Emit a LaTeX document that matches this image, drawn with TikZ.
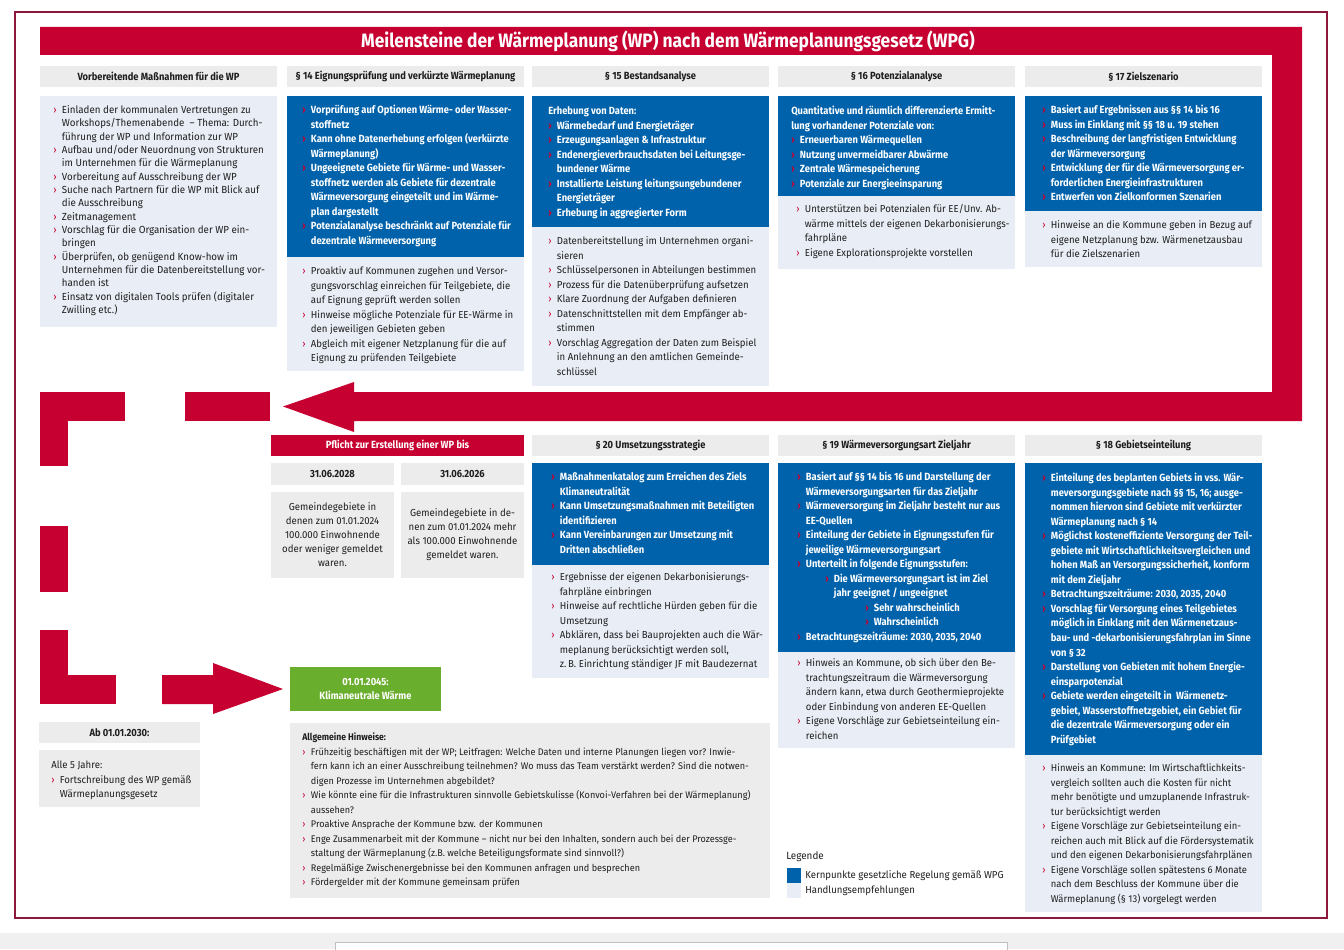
\documentclass[tikz,border=0pt]{standalone}
\usepackage{fontspec}
\setmainfont{Fira Sans}[UprightFeatures={FakeStretch=0.95}, BoldFeatures={FakeStretch=0.9}]
\usetikzlibrary{positioning}

\definecolor{wpred}{RGB}{198,0,48}
\definecolor{wpblue}{RGB}{0,98,171}
\definecolor{wplight}{RGB}{233,237,245}
\definecolor{wpgray}{RGB}{236,236,237}
\definecolor{wpdark}{RGB}{30,30,30}
\definecolor{wpframe}{RGB}{140,24,60}
\definecolor{wpgreen}{RGB}{106,174,46}

\newdimen\px \px=0.75pt
\newcommand{\bodyfnt}{\fontsize{7.6}{10.9}\selectfont}
\newcommand{\tightfnt}{\fontsize{7.7}{10}\selectfont}
\newcommand{\kernfnt}{\fontsize{7.8}{10.9}\selectfont\bfseries}
\newcommand{\headfnt}{\fontsize{7.8}{9}\selectfont\bfseries}
\newcommand{\bl}[1]{\rule{0pt}{7pt}\makebox[6.5pt][l]{\textcolor{wpred}{›}}#1}
\newcommand{\cl}[1]{\rule{0pt}{7pt}\hspace*{6.5pt}#1}
\newcommand{\sbl}[2]{\rule{0pt}{7pt}\hspace*{#1}\makebox[6.5pt][l]{\textcolor{wpred}{›}}#2}

\begin{document}
\begin{tikzpicture}[x=0.75pt, y=-0.75pt,
    box/.style={anchor=north west, inner sep=0pt, outer sep=0pt},
    kern/.style={box, fill=wpblue},
    hand/.style={box, fill=wplight},
    head/.style={box, fill=wpgray, text=wpdark, font=\headfnt, minimum height=21\px},
    redhead/.style={head, fill=wpred, text=white},
    txt/.style={anchor=north west, inner sep=0pt, align=left, text=wpdark, font=\bodyfnt},
    ktxt/.style={txt, text=white, font=\kernfnt},
    wide/.style={minimum width=237\px}
]
    \useasboundingbox (0,0) rectangle (1344,949);

    % Frame and screen strip
    \draw[wpframe, line width=1.2\px] (15,12) rectangle (1327,918);
    \fill[black!6] (0,933) rectangle (1344,949);
    \draw[black!25, fill=white] (335,942) rectangle (1007,955);

    % Red loop with title and arrow
    \fill[wpred] (40,27) -- (1302,27) -- (1302,421) -- (354,421) -- (354,432)
        -- (283,406.5) -- (354,382) -- (354,392) -- (1272,392) -- (1272,55)
        -- (40,55) -- cycle;
    \node[font=\fontsize{14.5}{16}\selectfont\bfseries, text=white] (title) at (668,41)
        {Meilensteine der Wärmeplanung (WP) nach dem Wärmeplanungsgesetz (WPG)};

    % Dashed red return path
    \fill[wpred] (40,392) rectangle (125,421);
    \fill[wpred] (40,392) rectangle (68,466);
    \fill[wpred] (185,392) rectangle (270,421);
    \fill[wpred] (40,526) rectangle (68,592);
    \fill[wpred] (40,630) rectangle (68,704);
    \fill[wpred] (40,675) rectangle (116,704);

    % Vorbereitende Massnahmen
    \node[head, wide] (h0) at (40,66) {Vorbereitende Maßnahmen für die WP};
    \node[hand, wide, minimum height=231\px] (a0) at (40,96) {};
    \node[txt, font=\tightfnt] (t0) at ([shift={(13,8)}]a0.north west) {
        \bl{Einladen der kommunalen Vertretungen zu}\\
        \cl{Workshops/Themenabende \ – Thema: Durch-}\\
        \cl{führung der WP und Information zur WP}\\
        \bl{Aufbau und/oder Neuordnung von Strukturen}\\
        \cl{im Unternehmen für die Wärmeplanung}\\
        \bl{Vorbereitung auf Ausschreibung der WP}\\
        \bl{Suche nach Partnern für die WP mit Blick auf}\\
        \cl{die Ausschreibung}\\
        \bl{Zeitmanagement}\\
        \bl{Vorschlag für die Organisation der WP ein-}\\
        \cl{bringen}\\
        \bl{Überprüfen, ob genügend Know-how im}\\
        \cl{Unternehmen für die Datenbereitstellung vor-}\\
        \cl{handen ist}\\
        \bl{Einsatz von digitalen Tools prüfen (digitaler}\\
        \cl{Zwilling etc.)}
    };

    % Paragraph 14
    \node[head, wide] (h14) at (287,66) {§ 14 Eignungsprüfung und verkürzte Wärmeplanung};
    \node[kern, wide, minimum height=161\px] (k14) at (287,96) {};
    \node[hand, wide, minimum height=114\px] (a14) at (287,257) {};
    \node[ktxt] (tk14) at ([shift={(15,8)}]k14.north west) {
        \bl{Vorprüfung auf Optionen Wärme- oder Wasser-}\\
        \cl{stoffnetz}\\
        \bl{Kann ohne Datenerhebung erfolgen (verkürzte}\\
        \cl{Wärmeplanung)}\\
        \bl{Ungeeignete Gebiete für Wärme- und Wasser-}\\
        \cl{stoffnetz werden als Gebiete für dezentrale}\\
        \cl{Wärmeversorgung eingeteilt und im Wärme-}\\
        \cl{plan dargestellt}\\
        \bl{Potenzialanalyse beschränkt auf Potenziale für}\\
        \cl{dezentrale Wärmeversorgung}
    };
    \node[txt] (ta14) at ([shift={(15,8)}]a14.north west) {
        \bl{Proaktiv auf Kommunen zugehen und Versor-}\\
        \cl{gungsvorschlag einreichen für Teilgebiete, die}\\
        \cl{auf Eignung geprüft werden sollen}\\
        \bl{Hinweise mögliche Potenziale für EE-Wärme in}\\
        \cl{den jeweiligen Gebieten geben}\\
        \bl{Abgleich mit eigener Netzplanung für die auf}\\
        \cl{Eignung zu prüfenden Teilgebiete}
    };

    % Paragraph 15
    \node[head, wide] (h15) at (532,66) {§ 15 Bestandsanalyse};
    \node[kern, wide, minimum height=131\px] (k15) at (532,96) {};
    \node[hand, wide, minimum height=159\px] (a15) at (532,227) {};
    \node[ktxt] (tk15) at ([shift={(16,9)}]k15.north west) {
        \rule{0pt}{7pt}Erhebung von Daten:\\
        \bl{Wärmebedarf und Energieträger}\\
        \bl{Erzeugungsanlagen \& Infrastruktur}\\
        \bl{Endenergieverbrauchsdaten bei Leitungsge-}\\
        \cl{bundener Wärme}\\
        \bl{Installierte Leistung leitungsungebundener}\\
        \cl{Energieträger}\\
        \bl{Erhebung in aggregierter Form}
    };
    \node[txt] (ta15) at ([shift={(16,8)}]a15.north west) {
        \bl{Datenbereitstellung im Unternehmen organi-}\\
        \cl{sieren}\\
        \bl{Schlüsselpersonen in Abteilungen bestimmen}\\
        \bl{Prozess für die Datenüberprüfung aufsetzen}\\
        \bl{Klare Zuordnung der Aufgaben definieren}\\
        \bl{Datenschnittstellen mit dem Empfänger ab-}\\
        \cl{stimmen}\\
        \bl{Vorschlag Aggregation der Daten zum Beispiel}\\
        \cl{in Anlehnung an den amtlichen Gemeinde-}\\
        \cl{schlüssel}
    };

    % Paragraph 16
    \node[head, wide] (h16) at (778,66) {§ 16 Potenzialanalyse};
    \node[kern, wide, minimum height=100\px] (k16) at (778,96) {};
    \node[hand, wide, minimum height=73\px] (a16) at (778,196) {};
    \node[ktxt] (tk16) at ([shift={(13,9)}]k16.north west) {
        \rule{0pt}{7pt}Quantitative und räumlich differenzierte Ermitt-\\
        \rule{0pt}{7pt}lung vorhandener Potenziale von:\\
        \bl{Erneuerbaren Wärmequellen}\\
        \bl{Nutzung unvermeidbarer Abwärme}\\
        \bl{Zentrale Wärmespeicherung}\\
        \bl{Potenziale zur Energieeinsparung}
    };
    \node[txt] (ta16) at ([shift={(18,7)}]a16.north west) {
        \bl{Unterstützen bei Potenzialen für EE/Unv. Ab-}\\
        \cl{wärme mittels der eigenen Dekarbonisierungs-}\\
        \cl{fahrpläne}\\
        \bl{Eigene Explorationsprojekte vorstellen}
    };

    % Paragraph 17
    \node[head, wide] (h17) at (1025,66) {§ 17 Zielszenario};
    \node[kern, wide, minimum height=115\px] (k17) at (1025,96) {};
    \node[hand, wide, minimum height=56\px] (a17) at (1025,211) {};
    \node[ktxt] (tk17) at ([shift={(17,8)}]k17.north west) {
        \bl{Basiert auf Ergebnissen aus §§ 14 bis 16}\\
        \bl{Muss im Einklang mit §§ 18 u. 19 stehen}\\
        \bl{Beschreibung der langfristigen Entwicklung}\\
        \cl{der Wärmeversorgung}\\
        \bl{Entwicklung der für die Wärmeversorgung er-}\\
        \cl{forderlichen Energieinfrastrukturen}\\
        \bl{Entwerfen von Zielkonformen Szenarien}
    };
    \node[txt] (ta17) at ([shift={(17,8)}]a17.north west) {
        \bl{Hinweise an die Kommune geben in Bezug auf}\\
        \cl{eigene Netzplanung bzw. Wärmenetzausbau}\\
        \cl{für die Zielszenarien}
    };

    % Pflicht zur Erstellung
    \node[redhead, minimum width=253\px] (pf) at (271,435) {Pflicht zur Erstellung einer WP bis};
    \node[head, minimum width=123\px, minimum height=22\px] (d28) at (271,463) {31.06.2028};
    \node[head, minimum width=123\px, minimum height=22\px] (d26) at (401,463) {31.06.2026};
    \node[hand, fill=wpgray, minimum width=123\px, minimum height=86\px, align=center,
        font=\fontsize{7.6}{10.5}\selectfont, text=wpdark] (e28) at (271,492)
        {Gemeindegebiete in\\denen zum 01.01.2024\\100.000 Einwohnende\\oder weniger gemeldet\\waren.};
    \node[hand, fill=wpgray, minimum width=123\px, minimum height=86\px, align=center,
        font=\fontsize{7.6}{10.5}\selectfont, text=wpdark] (e26) at (401,492)
        {Gemeindegebiete in de-\\nen zum 01.01.2024 mehr\\als 100.000 Einwohnende\\gemeldet waren.};

    % Paragraph 20
    \node[head, wide] (h20) at (532,435) {§ 20 Umsetzungsstrategie};
    \node[kern, wide, minimum height=102\px] (k20) at (532,463) {};
    \node[hand, wide, minimum height=113\px] (a20) at (532,565) {};
    \node[ktxt] (tk20) at ([shift={(19,8)}]k20.north west) {
        \bl{Maßnahmenkatalog zum Erreichen des Ziels}\\
        \cl{Klimaneutralität}\\
        \bl{Kann Umsetzungsmaßnahmen mit Beteiligten}\\
        \cl{identifizieren}\\
        \bl{Kann Vereinbarungen zur Umsetzung mit}\\
        \cl{Dritten abschließen}
    };
    \node[txt] (ta20) at ([shift={(19,6)}]a20.north west) {
        \bl{Ergebnisse der eigenen Dekarbonisierungs-}\\
        \cl{fahrpläne einbringen}\\
        \bl{Hinweise auf rechtliche Hürden geben für die}\\
        \cl{Umsetzung}\\
        \bl{Abklären, dass bei Bauprojekten auch die Wär-}\\
        \cl{meplanung berücksichtigt werden soll,}\\
        \cl{z.\,B. Einrichtung ständiger JF mit Baudezernat}
    };

    % Paragraph 19
    \node[head, wide] (h19) at (778,435) {§ 19 Wärmeversorgungsart Zieljahr};
    \node[kern, wide, minimum height=189\px] (k19) at (778,463) {};
    \node[hand, wide, minimum height=96\px] (a19) at (778,652) {};
    \node[ktxt] (tk19) at ([shift={(19,8)}]k19.north west) {
        \bl{Basiert auf §§ 14 bis 16 und Darstellung der}\\
        \cl{Wärmeversorgungsarten für das Zieljahr}\\
        \bl{Wärmeversorgung im Zieljahr besteht nur aus}\\
        \cl{EE-Quellen}\\
        \bl{Einteilung der Gebiete in Eignungsstufen für}\\
        \cl{jeweilige Wärmeversorgungsart}\\
        \bl{Unterteilt in folgende Eignungsstufen:}\\
        \sbl{21pt}{Die Wärmeversorgungsart ist im Ziel}\\
        \cl{\hspace*{21pt}jahr geeignet / ungeeignet}\\
        \sbl{51pt}{Sehr wahrscheinlich}\\
        \sbl{51pt}{Wahrscheinlich}\\
        \bl{Betrachtungszeiträume: 2030, 2035, 2040}
    };
    \node[txt] (ta19) at ([shift={(19,5)}]a19.north west) {
        \bl{Hinweis an Kommune, ob sich über den Be-}\\
        \cl{trachtungszeitraum die Wärmeversorgung}\\
        \cl{ändern kann, etwa durch Geothermieprojekte}\\
        \cl{oder Einbindung von anderen EE-Quellen}\\
        \bl{Eigene Vorschläge zur Gebietseinteilung ein-}\\
        \cl{reichen}
    };

    % Paragraph 18
    \node[head, wide] (h18) at (1025,435) {§ 18 Gebietseinteilung};
    \node[kern, wide, minimum height=292\px] (k18) at (1025,463) {};
    \node[hand, wide, minimum height=157\px] (a18) at (1025,755) {};
    \node[ktxt] (tk18) at ([shift={(17,9)}]k18.north west) {
        \bl{Einteilung des beplanten Gebiets in vss. Wär-}\\
        \cl{meversorgungsgebiete nach §§ 15, 16; ausge-}\\
        \cl{nommen hiervon sind Gebiete mit verkürzter}\\
        \cl{Wärmeplanung nach § 14}\\
        \bl{Möglichst kosteneffiziente Versorgung der Teil-}\\
        \cl{gebiete mit Wirtschaftlichkeitsvergleichen und}\\
        \cl{hohen Maß an Versorgungssicherheit, konform}\\
        \cl{mit dem Zieljahr}\\
        \bl{Betrachtungszeiträume: 2030, 2035, 2040}\\
        \bl{Vorschlag für Versorgung eines Teilgebietes}\\
        \cl{möglich in Einklang mit den Wärmenetzaus-}\\
        \cl{bau- und -dekarbonisierungsfahrplan im Sinne}\\
        \cl{von § 32}\\
        \bl{Darstellung von Gebieten mit hohem Energie-}\\
        \cl{einsparpotenzial}\\
        \bl{Gebiete werden eingeteilt in \ Wärmenetz-}\\
        \cl{gebiet, Wasserstoffnetzgebiet, ein Gebiet für}\\
        \cl{die dezentrale Wärmeversorgung oder ein}\\
        \cl{Prüfgebiet}
    };
    \node[txt, font=\fontsize{7.45}{10.9}\selectfont] (ta18) at ([shift={(17,7)}]a18.north west) {
        \bl{Hinweis an Kommune: Im Wirtschaftlichkeits-}\\
        \cl{vergleich sollten auch die Kosten für nicht}\\
        \cl{mehr benötigte und umzuplanende Infrastruk-}\\
        \cl{tur berücksichtigt werden}\\
        \bl{Eigene Vorschläge zur Gebietseinteilung ein-}\\
        \cl{reichen auch mit Blick auf die Fördersystematik}\\
        \cl{und den eigenen Dekarbonisierungsfahrplänen}\\
        \bl{Eigene Vorschläge sollen spätestens 6 Monate}\\
        \cl{nach dem Beschluss der Kommune über die}\\
        \cl{Wärmeplanung (§ 13) vorgelegt werden}
    };

    % Klimaneutral 2045
    \node[box, fill=wpgreen, text=white, font=\headfnt, align=center,
        minimum width=151\px, minimum height=44\px] (klima) at (290,667)
        {01.01.2045:\\[1pt]Klimaneutrale Wärme};
    \fill[wpred] (162,675) -- (213,675) -- (213,663) -- ([xshift=-7\px]klima.west)
        -- (213,714) -- (213,704) -- (162,704) -- cycle;

    % Ab 2030
    \node[head, minimum width=161\px] (h30) at (39,722) {Ab 01.01.2030:};
    \node[hand, fill=wpgray, minimum width=161\px, minimum height=57\px] (a30) at (39,750) {};
    \node[txt] (ta30) at ([shift={(12,9)}]a30.north west) {
        \rule{0pt}{7pt}Alle 5 Jahre:\\
        \bl{Fortschreibung des WP gemäß}\\
        \cl{Wärmeplanungsgesetz}
    };

    % Allgemeine Hinweise
    \node[hand, fill=wpgray, minimum width=480\px, minimum height=175\px] (allg) at (290,723) {};
    \node[txt, font=\fontsize{7.2}{10.9}\selectfont] (tallg) at ([shift={(12,8)}]allg.north west) {
        \rule{0pt}{7pt}\textbf{Allgemeine Hinweise:}\\
        \bl{Frühzeitig beschäftigen mit der WP; Leitfragen: Welche Daten und interne Planungen liegen vor? Inwie-}\\
        \cl{fern kann ich an einer Ausschreibung teilnehmen? Wo muss das Team verstärkt werden? Sind die notwen-}\\
        \cl{digen Prozesse im Unternehmen abgebildet?}\\
        \bl{Wie könnte eine für die Infrastrukturen sinnvolle Gebietskulisse (Konvoi-Verfahren bei der Wärmeplanung)}\\
        \cl{aussehen?}\\
        \bl{Proaktive Ansprache der Kommune bzw. der Kommunen}\\
        \bl{Enge Zusammenarbeit mit der Kommune – nicht nur bei den Inhalten, sondern auch bei der Prozessge-}\\
        \cl{staltung der Wärmeplanung (z.B. welche Beteiligungsformate sind sinnvoll?)}\\
        \bl{Regelmäßige Zwischenergebnisse bei den Kommunen anfragen und besprechen}\\
        \bl{Fördergelder mit der Kommune gemeinsam prüfen}
    };

    % Legend
    \node[txt, anchor=west, font=\headfnt\mdseries] (leg) at (786,857) {Legende};
    \node[kern, minimum width=14\px, minimum height=15\px] (lk) at (787,868) {};
    \node[hand, minimum width=14\px, minimum height=15\px] (lh) at (787,883) {};
    \node[txt, anchor=west, right=4\px of lk] (lkt) {Kernpunkte gesetzliche Regelung gemäß WPG};
    \node[txt, anchor=west, right=4\px of lh] (lht) {Handlungsempfehlungen};
\end{tikzpicture}
\end{document}
